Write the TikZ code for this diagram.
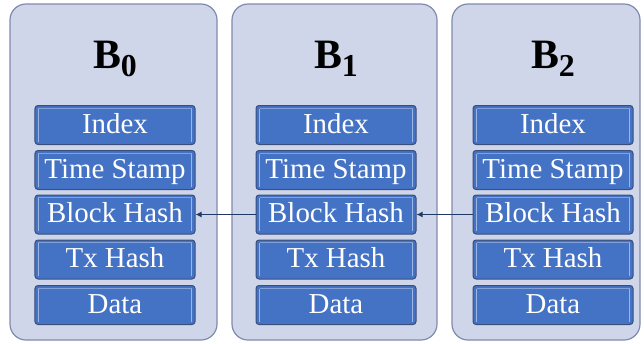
\documentclass[tikz,border=0pt]{standalone}
\usepackage{fontspec}
\setmainfont{Liberation Serif}
\usetikzlibrary{arrows.meta}
\definecolor{panelfill}{HTML}{D0D6EA}
\definecolor{paneldraw}{HTML}{7F8BAD}
\definecolor{cellfill}{HTML}{4472C4}
\definecolor{celldraw}{HTML}{3A4E78}
\definecolor{cellhi}{HTML}{9DB5E2}
\definecolor{arrowcol}{HTML}{1F3864}
\tikzset{
  panel/.style={draw=paneldraw, line width=1.2bp, fill=panelfill, rounded corners=16bp},
  cell/.style={draw=celldraw, line width=1bp, fill=cellfill, rounded corners=3bp,
    minimum width=160bp, minimum height=39bp, inner sep=0pt,
    text=white, font=\fontsize{29}{30}\selectfont\rmfamily, text height=16bp, text depth=0bp,
    path picture={\draw[cellhi, line width=1.2bp]
      ([xshift=3.5bp,yshift=-3bp]path picture bounding box.north west) --
      ([xshift=3.5bp,yshift=3bp]path picture bounding box.south west);
      \draw[cellhi, line width=1.2bp]
      ([xshift=-3.5bp,yshift=-3bp]path picture bounding box.north east) --
      ([xshift=-3.5bp,yshift=3bp]path picture bounding box.south east);
      \draw[cellhi!70!cellfill, line width=0.6bp]
      ([xshift=3.5bp,yshift=-2.5bp]path picture bounding box.north west) --
      ([xshift=-3.5bp,yshift=-2.5bp]path picture bounding box.north east);}},
  title/.style={anchor=base, inner sep=0pt, font=\fontsize{42}{42}\selectfont\rmfamily\bfseries},
  link/.style={draw=arrowcol, line width=1.8bp, -{Latex[length=6bp,width=6bp]}}
}
\newcommand{\blocktitle}[1]{B\raisebox{-8bp}{\fontsize{32}{32}\selectfont #1}}
\begin{document}
\begin{tikzpicture}[x=1bp,y=-1bp]
\useasboundingbox[fill=white] (0,0) rectangle (644,343);
\foreach \n/\cx/\xa/\xb in {0/115/10/217, 1/336/232/437, 2/553/452/640}{
  \draw[panel] (\xa,4) rectangle (\xb,340);
  \node[title] (t\n) at (\cx,68) {\blocktitle{\n}};
  \node[cell] (i\n) at (\cx,125) {Index};
  \node[cell] (s\n) at (\cx,170) {Time Stamp};
  \node[cell] (h\n) at (\cx,214.5) {Block Hash};
  \node[cell] (x\n) at (\cx,259.5) {Tx Hash};
  \node[cell] (d\n) at (\cx,305) {Data};
}
\draw[link] (h1.west) -- (h0.east);
\draw[link] (h2.west) -- (h1.east);
\end{tikzpicture}
\end{document}
